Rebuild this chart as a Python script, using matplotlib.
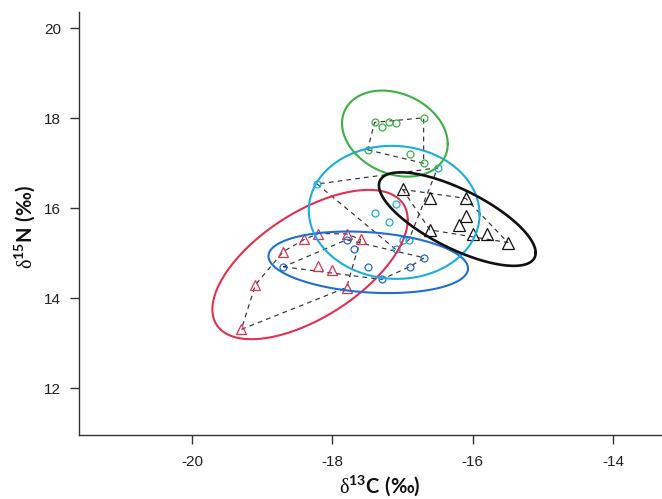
import numpy as np
import matplotlib
matplotlib.use("Agg")
import matplotlib.pyplot as plt

plt.rcParams["mathtext.fontset"] = "custom"
plt.rcParams["mathtext.rm"] = "Liberation Serif"
plt.rcParams["mathtext.bf"] = "Lato:bold"
plt.rcParams["mathtext.it"] = "Lato:bold"
plt.rcParams["mathtext.sf"] = "Lato:bold"

# ---------------- data ----------------
green_x = [-17.40, -17.30, -17.20, -17.10, -16.70, -17.50, -16.90, -16.70]
green_y = [17.91, 17.80, 17.91, 17.90, 18.01, 17.30, 17.21, 17.00]

cyan_x = [-18.22, -16.50, -17.10, -17.40, -17.20, -16.91, -17.00, -17.10]
cyan_y = [16.54, 16.90, 16.10, 15.90, 15.70, 15.30, 15.30, 15.09]

blue_x = [-17.80, -17.70, -18.70, -17.50, -17.30, -16.69, -16.90]
blue_y = [15.30, 15.09, 14.70, 14.70, 14.42, 14.90, 14.70]

red_x = [-18.20, -18.40, -17.80, -17.60, -18.70, -18.21, -18.00, -19.10, -17.80, -19.30]
red_y = [15.44, 15.31, 15.43, 15.31, 15.04, 14.72, 14.63, 14.30, 14.24, 13.31]

black_x = [-17.00, -16.61, -16.10, -16.10, -16.20, -16.61, -16.00, -15.80, -15.50]
black_y = [16.42, 16.22, 16.22, 15.83, 15.64, 15.52, 15.43, 15.43, 15.24]

# ellipses: centre, half-width, half-height, correlation (data units)
ell_names = ["red", "blue", "cyan", "green", "black"]
ell_cx = [-18.32, -17.49, -17.12, -17.11, -16.22]
ell_cy = [14.75, 14.80, 15.91, 17.66, 15.76]
ell_sx = [1.393, 1.423, 1.218, 0.754, 1.118]
ell_sy = [1.659, 0.684, 1.478, 0.956, 1.039]
ell_rho = [0.60, -0.20, -0.03, -0.24, -0.72]

x_ticks = [-20, -18, -16, -14]
y_ticks = [12, 14, 16, 18, 20]

# ---------------- style ----------------
colors = {
    "red": "#E3304F",
    "blue": "#1F6ED4",
    "cyan": "#19AEE0",
    "green": "#3CB043",
    "black": "#111111",
}

W, H = 662, 499
fig = plt.figure(figsize=(W / 100, H / 100), dpi=100)
left, right, bottom, top = 78.7, 662.0, 435.3, 12.0
ax = fig.add_axes([left / W, 1 - bottom / H, (right - left) / W, (bottom - top) / H])
ax.set_xlim(-21.62, -13.30)
ax.set_ylim(10.956, 20.362)


def hull(xs, ys):
    pts = sorted(set(zip(xs, ys)))
    def cross(o, a, b):
        return (a[0] - o[0]) * (b[1] - o[1]) - (a[1] - o[1]) * (b[0] - o[0])
    lower, upper = [], []
    for p in pts:
        while len(lower) >= 2 and cross(lower[-2], lower[-1], p) <= 0:
            lower.pop()
        lower.append(p)
    for p in reversed(pts):
        while len(upper) >= 2 and cross(upper[-2], upper[-1], p) <= 0:
            upper.pop()
        upper.append(p)
    h = lower[:-1] + upper[:-1]
    h.append(h[0])
    return [p[0] for p in h], [p[1] for p in h]


groups = [
    ("red", red_x, red_y, "^", 7.5),
    ("blue", blue_x, blue_y, "o", 5.0),
    ("cyan", cyan_x, cyan_y, "o", 5.0),
    ("green", green_x, green_y, "o", 5.0),
    ("black", black_x, black_y, "^", 8.5),
]

for name, xs, ys, mk, ms in groups:
    ax.plot(xs, ys, linestyle="none", marker=mk, markersize=ms,
            markerfacecolor="none", markeredgecolor=colors[name],
            markeredgewidth=0.9, zorder=3)
    hx, hy = hull(xs, ys)
    ax.plot(hx, hy, color="#333333", lw=0.85, linestyle=(0, (4, 3.5)), zorder=2)

t = np.linspace(0, 2 * np.pi, 300)
for name, cx, cy, sx, sy, r in zip(ell_names, ell_cx, ell_cy, ell_sx, ell_sy, ell_rho):
    ex = cx + sx * np.cos(t)
    ey = cy + sy * (r * np.cos(t) + np.sqrt(1 - r * r) * np.sin(t))
    lw = 1.9 if name == "black" else 1.5
    ax.plot(ex, ey, color=colors[name], lw=lw, zorder=4)

# axes styling (R style: left & bottom only)
for s in ["top", "right"]:
    ax.spines[s].set_visible(False)
for s in ["left", "bottom"]:
    ax.spines[s].set_color("#333333")
    ax.spines[s].set_linewidth(1.0)

ax.set_xticks(x_ticks)
ax.set_yticks(y_ticks)
ax.set_xticklabels([str(v) for v in x_ticks])
ax.set_yticklabels([str(v) for v in y_ticks])
ax.tick_params(axis="both", direction="out", length=6.5, width=1.0, color="#333333",
               labelsize=11, labelcolor="#222222")
ax.tick_params(axis="x", pad=7.5)
ax.tick_params(axis="y", pad=6)
for lab in ax.get_xticklabels() + ax.get_yticklabels():
    lab.set_fontfamily(["Liberation Sans", "DejaVu Sans"])

lab_font = dict(family=["Lato", "DejaVu Sans"], fontweight="bold", fontsize=14.5, color="#111111")
ax.set_xlabel(r"$\mathrm{δ}^{\mathbf{13}}\mathbf{C\ (‰)}$", **lab_font)
ax.set_ylabel(r"$\mathrm{δ}^{\mathbf{15}}\mathbf{N\ (‰)}$", **lab_font)
ax.xaxis.set_label_coords((380 - left) / (right - left), -(486 - bottom) / (bottom - top), transform=ax.transAxes)
ax.yaxis.set_label_coords(-(left - 25) / (right - left), (bottom - 227) / (bottom - top), transform=ax.transAxes)
ax.xaxis.label.set_va("center")
ax.yaxis.label.set_va("center")

fig.savefig("out.png", dpi=100)
